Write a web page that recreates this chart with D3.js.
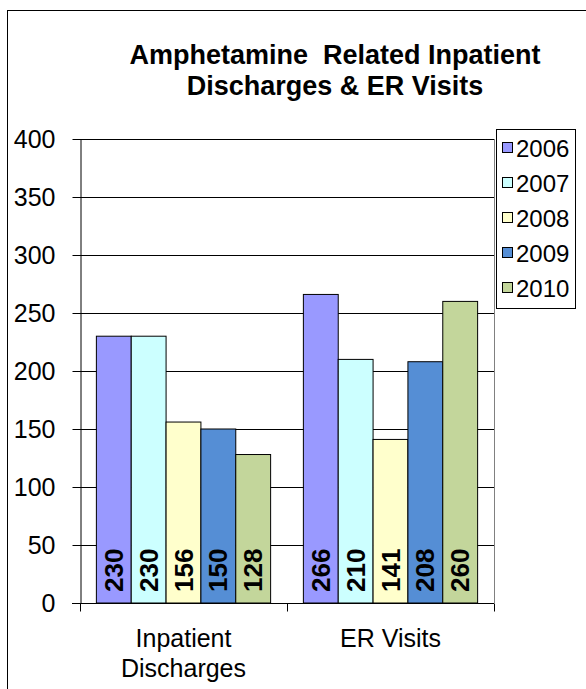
<!DOCTYPE html>
<html><head><meta charset="utf-8">
<script src="https://cdn.jsdelivr.net/npm/d3@7"></script>
<style>body{margin:0;background:#fff}svg{display:block}text{font-family:"Liberation Sans",Arial,sans-serif}</style>
</head><body><svg id="c" width="586" height="689"></svg>
<script>
const categories = ["Inpatient|Discharges", "ER Visits"];
const years = ["2006", "2007", "2008", "2009", "2010"];
const colors = ["#9999FF", "#CCFFFF", "#FFFFCC", "#558ED5", "#C3D69B"];
const values2006 = [230, 266];
const values2007 = [230, 210];
const values2008 = [156, 141];
const values2009 = [150, 208];
const values2010 = [128, 260];
const yTicks = [0, 50, 100, 150, 200, 250, 300, 350, 400];
const titleLines = ["Amphetamine  Related Inpatient", "Discharges & ER Visits"];

const FONT = "'Liberation Sans', Arial, sans-serif";
const series = [values2006, values2007, values2008, values2009, values2010];
const svg = d3.select("#c");
// outer frame
svg.append("rect").attr("x", 7.5).attr("y", 10.5).attr("width", 620).attr("height", 720)
  .attr("fill", "#fff").attr("stroke", "#000").attr("stroke-width", 1);

const L = 80, R = 494, T = 139, B = 603;
const y = d3.scaleLinear().domain([0, 400]).range([B, T]);
const x0 = d3.scaleBand().domain(categories).range([L, R]);
const x1 = d3.scaleBand().domain(years).range([0, x0.bandwidth()]).paddingOuter(0.47);

// title
const title = svg.append("text").attr("text-anchor", "middle").attr("font-weight", "bold").attr("font-size", 27)
  .attr("font-family", FONT);
titleLines.forEach((t, i) => title.append("tspan").attr("x", 335).attr("y", 64 + i * 31).attr("xml:space", "preserve").text(t));

// gridlines
svg.append("g").selectAll("line").data(yTicks.filter(d => d > 0)).join("line")
  .attr("x1", L).attr("x2", R).attr("y1", d => Math.round(y(d)) + 0.5).attr("y2", d => Math.round(y(d)) + 0.5)
  .attr("stroke", "#000").attr("stroke-width", 1);
// right plot border
svg.append("line").attr("x1", R + 0.5).attr("x2", R + 0.5).attr("y1", T).attr("y2", B).attr("stroke", "#808080");

// bars
const groups = svg.append("g").selectAll("g").data(categories).join("g")
  .attr("transform", c => `translate(${x0(c)},0)`);
groups.each(function (c, ci) {
  const g = d3.select(this);
  years.forEach((yr, si) => {
    const v = series[si][ci];
    g.append("rect").attr("x", x1(yr)).attr("width", x1.bandwidth())
      .attr("y", y(v)).attr("height", B - y(v))
      .attr("fill", colors[si]).attr("stroke", "#000").attr("stroke-width", 1);
    const cx = x1(yr) + x1.bandwidth() / 2;
    g.append("text").attr("transform", `translate(${cx + 9},${B - 11}) rotate(-90)`)
      .attr("font-size", 26).attr("font-weight", "bold").attr("text-anchor", "start")
      .attr("font-family", FONT).text(v);
  });
});

// y axis
const yAxis = svg.append("g").attr("transform", `translate(${L + 0.5},0)`)
  .call(d3.axisLeft(y).tickValues(yTicks).tickSize(8).tickPadding(17).tickSizeOuter(0));
yAxis.attr("font-family", FONT);
yAxis.select(".domain").attr("stroke", "#000");
yAxis.selectAll("line").attr("stroke", "#000");
yAxis.selectAll("text").attr("font-size", 25).attr("fill", "#000").attr("font-family", FONT);

// x axis
const xg = svg.append("g").attr("transform", `translate(0,${B + 0.5})`);
xg.append("line").attr("x1", L - 8).attr("x2", R).attr("stroke", "#000");
const xTickPos = [L, ...categories.map(c => x0(c) + x0.bandwidth())];
xg.selectAll(".t").data(xTickPos).join("line").attr("class", "t")
  .attr("x1", d => d + 0.5).attr("x2", d => d + 0.5).attr("y1", 0).attr("y2", 8).attr("stroke", "#000");
categories.forEach(c => {
  const t = xg.append("text").attr("text-anchor", "middle").attr("font-size", 25).attr("font-family", FONT);
  c.split("|").forEach((ln, i) => t.append("tspan").attr("x", x0(c) + x0.bandwidth() / 2).attr("y", 43 + i * 30).text(ln));
});

// legend
const lg = svg.append("g");
lg.append("rect").attr("x", 496.5).attr("y", 129.5).attr("width", 79).attr("height", 179)
  .attr("fill", "#fff").attr("stroke", "#000");
years.forEach((yr, i) => {
  const cy = 148 + i * 35;
  lg.append("rect").attr("x", 502.5).attr("y", cy - 5.5).attr("width", 10).attr("height", 10)
    .attr("fill", colors[i]).attr("stroke", "#000");
  lg.append("text").attr("x", 516).attr("y", cy + 9).attr("font-size", 24).attr("font-family", FONT).text(yr);
});
</script></body></html>
